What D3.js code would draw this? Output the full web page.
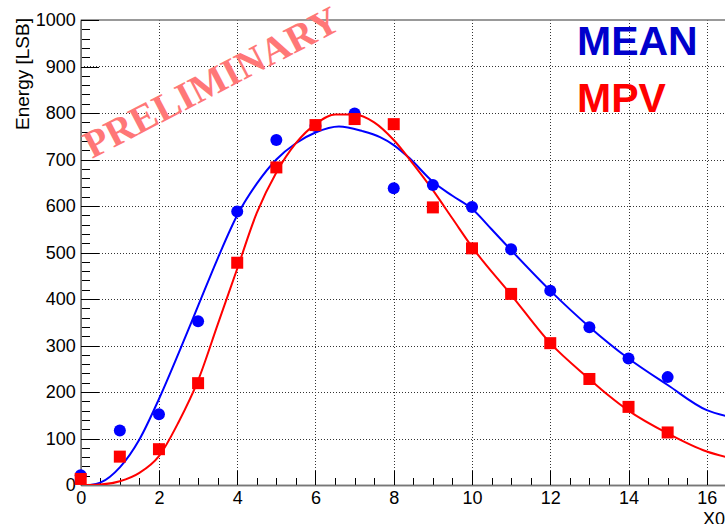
<!DOCTYPE html>
<html>
<head>
<meta charset="utf-8">
<title>Energy vs X0</title>
<style>
    body { margin: 0; background: #fff; }
    svg { display: block; }
    .axis text { font: 18px "Liberation Sans", Arial, sans-serif; fill: #000; }
    .axis line { stroke: #000; shape-rendering: crispEdges; }
    .axis path { stroke: #777; stroke-width: 1.5; }
    .grid line { stroke: #333; stroke-dasharray: 1,2; shape-rendering: crispEdges; }
</style>
</head>
<body>
<script src="https://cdn.jsdelivr.net/npm/d3@7"></script>
<script>
// measured points
var xPos = [0, 1, 2, 3, 4, 5, 6, 7, 8, 9, 10, 11, 12, 13, 14, 15];
var meanVals = [21, 117, 152, 352, 588, 742, 772, 799, 638, 645, 598, 507, 418, 339, 272, 232];
var mpvVals = [13, 61, 77, 219, 478, 683, 774, 787, 776, 597, 509, 411, 305, 228, 168, 113];

// fitted curves
var meanFitX = [0.25, 0.5, 1, 1.5, 2, 2.5, 3, 3.5, 4, 4.5, 5, 5.5, 6, 6.6, 7.2, 7.65, 8, 8.4, 9, 9.5, 10, 10.5, 11, 12, 13, 14, 15, 16, 16.5];
var meanFitY = [0, 5, 38, 98, 185, 283, 385, 487, 580, 648, 700, 735, 758, 771, 761, 748, 731, 703, 652, 622, 594, 550, 505, 418, 340, 272, 215, 161, 148];
var mpvFitX = [0, 0.5, 1, 1.5, 2, 2.5, 3, 3.5, 4, 4.5, 5, 5.5, 6, 6.5, 7, 7.5, 8, 8.5, 9, 9.5, 10, 11, 12, 13, 13.5, 14, 15, 16, 16.5];
var mpvFitY = [0, 1, 8, 26, 62, 135, 225, 345, 465, 585, 672, 735, 776, 797, 797, 780, 742, 690, 634, 573, 512, 409, 305, 228, 192, 160, 111, 72, 60];

var xTicks = [0, 2, 4, 6, 8, 10, 12, 14, 16];
var yTicks = [0, 100, 200, 300, 400, 500, 600, 700, 800, 900, 1000];

var W = 725, H = 524;
var padLeft = 80.7, padTop = 20, padBottom = 485;

var x = d3.scaleLinear().domain([0, 16.5]).range([padLeft, padLeft + 16.5 * 39.13]);
var y = d3.scaleLinear().domain([0, 1000]).range([padBottom, padTop]);

var svg = d3.select("body").append("svg")
    .attr("width", W)
    .attr("height", H);

svg.append("defs").append("clipPath").attr("id", "plot")
    .append("rect")
    .attr("x", padLeft).attr("y", padTop)
    .attr("width", W - padLeft).attr("height", padBottom - padTop);

// grid
svg.append("g").attr("class", "grid")
    .selectAll("line")
    .data(xTicks.filter(function (d) { return d > 0; }))
    .enter().append("line")
    .attr("x1", function (d) { return Math.round(x(d)) + 0.5; })
    .attr("x2", function (d) { return Math.round(x(d)) + 0.5; })
    .attr("y1", padTop).attr("y2", padBottom);
svg.append("g").attr("class", "grid")
    .selectAll("line")
    .data(yTicks.filter(function (d) { return d > 0 && d < 1000; }))
    .enter().append("line")
    .attr("x1", padLeft).attr("x2", W)
    .attr("y1", function (d) { return Math.round(y(d)) + 0.5; })
    .attr("y2", function (d) { return Math.round(y(d)) + 0.5; });

// top frame
svg.append("line")
    .attr("x1", padLeft).attr("x2", W)
    .attr("y1", padTop).attr("y2", padTop)
    .attr("stroke", "#777").attr("stroke-width", 1.5);

// minor ticks
svg.append("g").attr("class", "axis")
    .attr("transform", "translate(" + padLeft + ",0)")
    .call(d3.axisLeft(y).tickValues(d3.range(0, 1001, 20)).tickSizeInner(-9).tickSizeOuter(0).tickFormat(""));
svg.append("g").attr("class", "axis")
    .attr("transform", "translate(0," + padBottom + ")")
    .call(d3.axisBottom(x).tickValues(d3.range(0, 16.6, 0.5)).tickSizeInner(-7).tickSizeOuter(0).tickFormat(""));

// major ticks with labels
svg.append("g").attr("class", "axis")
    .attr("transform", "translate(" + padLeft + ",0)")
    .call(d3.axisLeft(y).tickValues(yTicks).tickSizeInner(-18).tickSizeOuter(0).tickPadding(5).tickFormat(d3.format("d")));
svg.append("g").attr("class", "axis")
    .attr("transform", "translate(0," + padBottom + ")")
    .call(d3.axisBottom(x).tickValues(xTicks).tickSizeInner(-14).tickSizeOuter(0).tickPadding(6).tickFormat(d3.format("d")));

// axis titles
svg.append("text")
    .attr("transform", "translate(28.5,18) rotate(-90)")
    .attr("text-anchor", "end")
    .style("font", "19px 'Liberation Sans', Arial, sans-serif")
    .text("Energy [LSB]");
svg.append("text")
    .attr("x", 703).attr("y", 525)
    .style("font", "18px 'Liberation Sans', Arial, sans-serif")
    .text("X0");

// curves
var line = d3.line()
    .x(function (d) { return x(d[0]); })
    .y(function (d) { return y(d[1]); })
    .curve(d3.curveMonotoneX);

var plot = svg.append("g").attr("clip-path", "url(#plot)");
plot.append("path")
    .datum(d3.zip(meanFitX, meanFitY))
    .attr("d", line)
    .attr("fill", "none").attr("stroke", "#0000ff").attr("stroke-width", 2);
plot.append("path")
    .datum(d3.zip(mpvFitX, mpvFitY))
    .attr("d", line)
    .attr("fill", "none").attr("stroke", "#ff0000").attr("stroke-width", 2);

// markers
svg.append("g").selectAll("circle")
    .data(d3.zip(xPos, meanVals))
    .enter().append("circle")
    .attr("cx", function (d) { return x(d[0]); })
    .attr("cy", function (d) { return y(d[1]); })
    .attr("r", 6)
    .attr("fill", "#0000ff");
svg.append("g").selectAll("rect")
    .data(d3.zip(xPos, mpvVals))
    .enter().append("rect")
    .attr("x", function (d) { return x(d[0]) - 6; })
    .attr("y", function (d) { return y(d[1]) - 6; })
    .attr("width", 12).attr("height", 12)
    .attr("fill", "#ff0000");

// watermark
svg.append("text")
    .attr("transform", "translate(92,159) rotate(-27.5)")
    .style("font", "bold 39px 'Liberation Serif', 'Times New Roman', serif")
    .attr("fill", "#ff7777")
    .text("PRELIMINARY");

// legend
svg.append("text")
    .attr("x", 577).attr("y", 55)
    .style("font", "bold 41px 'Liberation Sans', Arial, sans-serif")
    .attr("fill", "#0000cc")
    .text("MEAN");
svg.append("text")
    .attr("x", 577).attr("y", 112)
    .style("font", "bold 41px 'Liberation Sans', Arial, sans-serif")
    .attr("fill", "#ff0000")
    .text("MPV");
</script>
</body>
</html>
